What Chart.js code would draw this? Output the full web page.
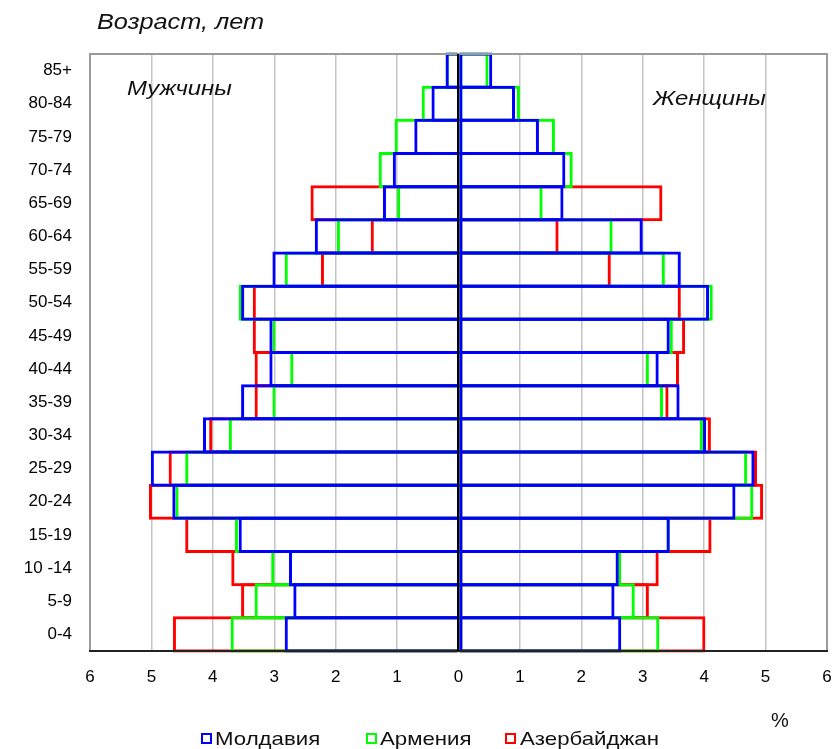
<!DOCTYPE html>
<html>
<head>
<meta charset="utf-8">
<script src="https://cdn.jsdelivr.net/npm/chart.js@4.4.0/dist/chart.umd.min.js"></script>
<style>
  html, body { margin: 0; padding: 0; background: #fff; }
  #wrap { position: relative; width: 835px; height: 749px; overflow: hidden; }
  #c { position: absolute; left: 0; top: 0; }
  .t { position: absolute; font-family: "Liberation Sans", Arial, sans-serif; color: #111; white-space: nowrap; transform-origin: 0 0; }
  .it { font-style: italic; }
  .box { position: absolute; width: 7px; height: 7px; border: 2.5px solid; background: #fff; }
</style>
</head>
<body>
<div id="wrap">
  <canvas id="c" width="835" height="749"></canvas>
  <div class="t it" style="left:97px; top:9px; font-size:22px; transform:scaleX(1.15);">Возраст, лет</div>
  <div class="t it" style="left:127px; top:76px; font-size:21px; transform:scaleX(1.14);">Мужчины</div>
  <div class="t it" style="left:653px; top:86px; font-size:21px; transform:scaleX(1.14);">Женщины</div>
  <div class="t" style="left:771px; top:709px; font-size:20px;">%</div>
  <div class="box" style="left:201px; top:733px; border-color:#0000ff;"></div>
  <div class="t" style="left:215px; top:728px; font-size:19px; transform:scaleX(1.17);">Молдавия</div>
  <div class="box" style="left:366px; top:733px; border-color:#00ff00;"></div>
  <div class="t" style="left:380px; top:728px; font-size:19px; transform:scaleX(1.17);">Армения</div>
  <div class="box" style="left:505px; top:733px; border-color:#ff0000;"></div>
  <div class="t" style="left:520px; top:728px; font-size:19px; transform:scaleX(1.17);">Азербайджан</div>
</div>
<script>
// Age groups, youngest first (drawn bottom to top)
const ageGroups = ["0-4", "5-9", "10 -14", "15-19", "20-24", "25-29", "30-34", "35-39", "40-44",
                   "45-49", "50-54", "55-59", "60-64", "65-69", "70-74", "75-79", "80-84", "85+"];

// Share of population, % (men drawn to the left, women to the right)
const moldovaMen     = [2.83, 2.69, 2.76, 3.58, 4.66, 5.01, 4.16, 3.54, 3.08, 3.08, 3.54, 3.03, 2.34, 1.23, 1.07, 0.72, 0.44, 0.21];
const moldovaWomen   = [2.65, 2.54, 2.61, 3.44, 4.51, 4.82, 4.03, 3.60, 3.26, 3.44, 4.08, 3.62, 3.00, 1.71, 1.74, 1.31, 0.92, 0.55];
const armeniaMen     = [3.71, 3.32, 3.05, 3.64, 4.61, 4.45, 3.74, 3.03, 2.74, 3.03, 3.58, 2.83, 1.98, 1.00, 1.30, 1.04, 0.60, 0.21];
const armeniaWomen   = [3.27, 2.87, 2.65, 3.44, 4.80, 4.70, 3.98, 3.33, 3.10, 3.49, 4.14, 3.36, 2.51, 1.37, 1.86, 1.57, 1.00, 0.49];
const azerbaijanMen  = [4.65, 3.54, 3.70, 4.45, 5.04, 4.72, 4.06, 3.32, 3.32, 3.35, 3.35, 2.24, 1.43, 2.41, null, null, null, null];
const azerbaijanWomen= [4.02, 3.10, 3.26, 4.12, 4.96, 4.86, 4.11, 3.42, 3.59, 3.69, 3.62, 2.48, 1.63, 3.32, null, null, null, null];

const countryNames = ["Молдавия", "Армения", "Азербайджан"];
const countryColors = ["#0000ff", "#00ff00", "#ff0000"];
const axisTicks = [-6, -5, -4, -3, -2, -1, 0, 1, 2, 3, 4, 5, 6];

const menSeries = [moldovaMen, armeniaMen, azerbaijanMen];
const womenSeries = [moldovaWomen, armeniaWomen, azerbaijanWomen];

const datasets = [];
countryNames.forEach((name, i) => {
  const common = {
    backgroundColor: "rgba(0,0,0,0)",
    borderColor: countryColors[i],
    borderWidth: 3,
    grouped: false,
    barPercentage: 1.09,
    categoryPercentage: 1,
    inflateAmount: 0,
    clip: false
  };
  datasets.push(Object.assign({ label: name + " (м)", data: menSeries[i].map(v => v == null ? null : -v), borderSkipped: "start" }, common));
  datasets.push(Object.assign({ label: name, data: womenSeries[i], borderSkipped: false }, common));
});

const framePlugin = {
  id: "frame",
  afterDatasetsDraw(chart) {
    const { ctx, chartArea: a, scales } = chart;
    ctx.save();
    ctx.lineWidth = 2;
    ctx.strokeStyle = "#9a9a9a";
    ctx.beginPath();
    ctx.moveTo(a.left, a.bottom);
    ctx.lineTo(a.left, a.top);
    ctx.lineTo(a.right, a.top);
    ctx.lineTo(a.right, a.bottom);
    ctx.stroke();
    ctx.strokeStyle = "#222";
    ctx.beginPath();
    ctx.moveTo(a.left - 1, a.bottom);
    ctx.lineTo(a.right + 1, a.bottom);
    ctx.stroke();
    const x0 = scales.x.getPixelForValue(0);
    ctx.strokeStyle = "#000";
    ctx.beginPath();
    ctx.moveTo(x0 - 0.5, a.top);
    ctx.lineTo(x0 - 0.5, a.bottom);
    ctx.stroke();
    ctx.restore();
  }
};

new Chart(document.getElementById("c"), {
  type: "bar",
  data: { labels: ageGroups, datasets },
  options: {
    indexAxis: "y",
    responsive: false,
    devicePixelRatio: 1,
    animation: false,
    layout: { padding: { top: 54, right: 8, left: 0, bottom: 0 } },
    plugins: { legend: { display: false }, tooltip: { enabled: false } },
    scales: {
      x: {
        type: "linear",
        min: axisTicks[0],
        max: axisTicks[axisTicks.length - 1],
        afterBuildTicks(scale) { scale.ticks = axisTicks.map(v => ({ value: v })); },
        afterFit(scale) { scale.height = 98; scale.paddingLeft = 0; scale.paddingRight = 0; },
        ticks: {
          callback: v => String(Math.abs(v)),
          color: "#000",
          font: { family: "'Liberation Sans', Arial, sans-serif", size: 17 },
          padding: 16,
          maxRotation: 0
        },
        grid: { color: "#c4c4c4", lineWidth: 1.5, drawTicks: false },
        border: { display: false }
      },
      y: {
        type: "category",
        reverse: true,
        afterFit(scale) { scale.width = 90; scale.paddingTop = 0; scale.paddingBottom = 0; },
        ticks: {
          color: "#000",
          font: { family: "'Liberation Sans', Arial, sans-serif", size: 17 },
          padding: 18
        },
        grid: { display: false, drawTicks: false },
        border: { display: false }
      }
    }
  },
  plugins: [framePlugin]
});
</script>
</body>
</html>
